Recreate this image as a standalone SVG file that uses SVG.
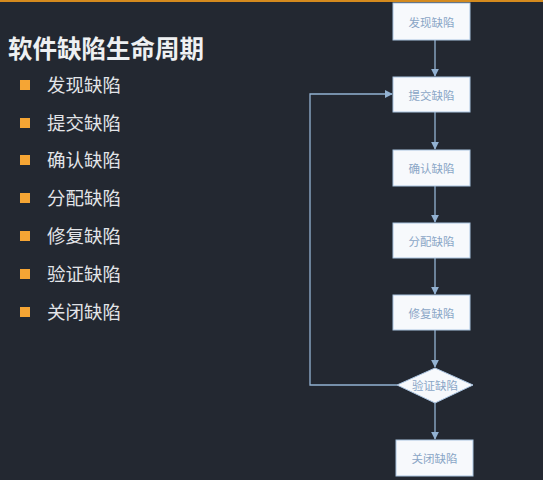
<svg xmlns="http://www.w3.org/2000/svg" width="543" height="480" viewBox="0 0 543 480">
<defs>
<style>
.title{font-family:"Noto Sans CJK SC","Noto Sans",sans-serif;font-size:24.5px;font-weight:bold;fill:#eef0f2}
.item{font-family:"Noto Sans CJK SC","Noto Sans",sans-serif;font-size:18.5px;fill:#e2e4e8}
.bul{fill:#f5a534}
.box{fill:#f7f9fc;stroke:#a9c3e0;stroke-width:1}
.lbl{font-family:"Noto Sans CJK SC","Noto Sans",sans-serif;font-size:11.5px;fill:#8aa6c6;text-anchor:middle;dominant-baseline:central}
.con{fill:none;stroke:#93b2d2;stroke-width:1.3}
</style>
<marker id="ah" viewBox="0 0 10 10" refX="9" refY="5" markerWidth="6" markerHeight="6" orient="auto">
<path d="M0,0 L10,5 L0,10 z" fill="#93b2d2"/>
</marker>
</defs>
<rect width="543" height="480" fill="#232831"/>
<rect width="543" height="2" fill="#d48a1e"/>
<text class="title" x="8" y="58">软件缺陷生命周期</text>
<g id="list">
<rect class="bul" x="20" y="80" width="10" height="10"/><text class="item" x="47" y="92">发现缺陷</text>
<rect class="bul" x="20" y="118" width="10" height="10"/><text class="item" x="47" y="130">提交缺陷</text>
<rect class="bul" x="20" y="155" width="10" height="10"/><text class="item" x="47" y="167">确认缺陷</text>
<rect class="bul" x="20" y="193" width="10" height="10"/><text class="item" x="47" y="205">分配缺陷</text>
<rect class="bul" x="20" y="231" width="10" height="10"/><text class="item" x="47" y="243">修复缺陷</text>
<rect class="bul" x="20" y="269" width="10" height="10"/><text class="item" x="47" y="281">验证缺陷</text>
<rect class="bul" x="20" y="307" width="10" height="10"/><text class="item" x="47" y="319">关闭缺陷</text>
</g>
<g id="connectors">
<line class="con" x1="435" y1="40" x2="435" y2="76" marker-end="url(#ah)"/>
<line class="con" x1="435" y1="112" x2="435" y2="149" marker-end="url(#ah)"/>
<line class="con" x1="435" y1="186" x2="435" y2="222" marker-end="url(#ah)"/>
<line class="con" x1="435" y1="258" x2="435" y2="294" marker-end="url(#ah)"/>
<line class="con" x1="435" y1="330" x2="435" y2="367" marker-end="url(#ah)"/>
<line class="con" x1="435" y1="403" x2="435" y2="439" marker-end="url(#ah)"/>
<polyline class="con" points="397,385 310,385 310,94 392,94" marker-end="url(#ah)"/>
</g>
<g id="n1"><rect class="box" x="393" y="3" width="77" height="37"/><text class="lbl" x="431.5" y="21.5">发现缺陷</text></g>
<g id="n2"><rect class="box" x="393" y="77" width="77" height="35"/><text class="lbl" x="431.5" y="94.5">提交缺陷</text></g>
<g id="n3"><rect class="box" x="393" y="150" width="77" height="36"/><text class="lbl" x="431.5" y="168">确认缺陷</text></g>
<g id="n4"><rect class="box" x="393" y="223" width="77" height="35"/><text class="lbl" x="431.5" y="240.5">分配缺陷</text></g>
<g id="n5"><rect class="box" x="393" y="295" width="77" height="35"/><text class="lbl" x="431.5" y="312.5">修复缺陷</text></g>
<g id="n6"><polygon class="box" points="435,368 473,385 435,403 397,385"/><text class="lbl" x="435" y="385">验证缺陷</text></g>
<g id="n7"><rect class="box" x="396" y="440" width="77" height="36"/><text class="lbl" x="434.5" y="458">关闭缺陷</text></g>
</svg>
